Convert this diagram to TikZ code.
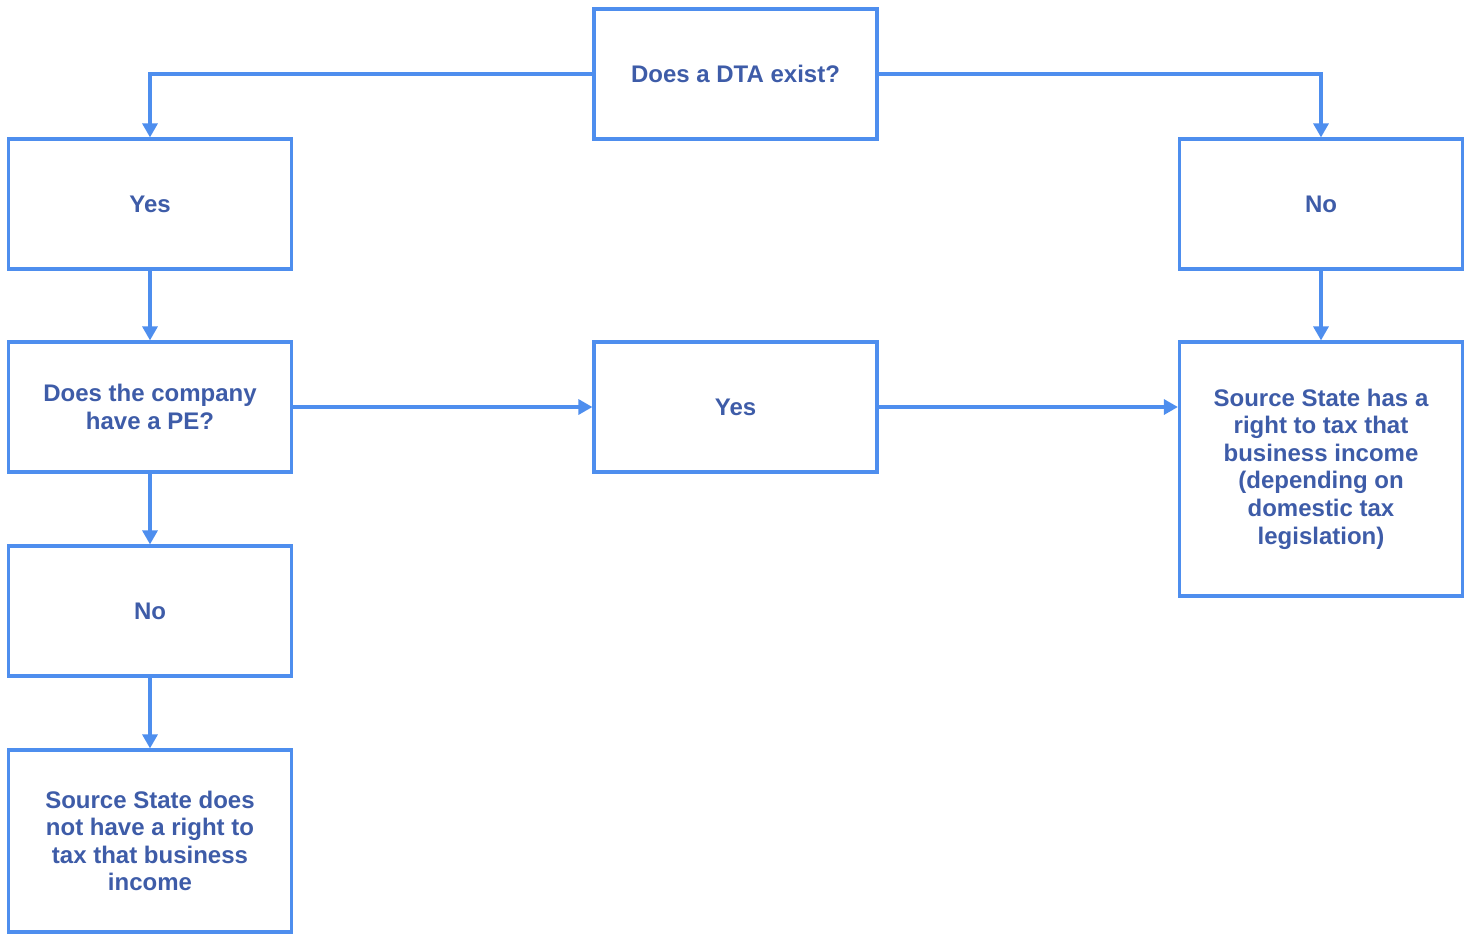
\documentclass[tikz,border=0pt]{standalone}
\usepackage{fontspec}
\setmainfont{Liberation Sans}
\usetikzlibrary{arrows.meta}
\definecolor{flowline}{RGB}{78,142,238}
\definecolor{flowtext}{RGB}{62,92,168}

\begin{document}
\begin{tikzpicture}[x=0.5pt,y=-0.5pt,
		box/.style={draw=flowline, line width=1.6pt, rectangle, minimum width=141.5pt, minimum height=65pt,
			text=flowtext, align=center, font=\fontsize{12}{13.8}\selectfont\bfseries},
		arr/.style={draw=flowline, line width=1.6pt, -{Triangle[width=7.5pt,length=7pt]}}]
			\useasboundingbox (0,0) rectangle (1469,934);

			\node[box] (dta) at (735.5,74) {Does a DTA exist?};
			\node[box] (yesl) at (150,204) {Yes};
			\node[box] (nor) at (1321,204) {No};
			\node[box] (pe) at (150,407) {Does the company\\have a PE?};
			\node[box] (yesm) at (735.5,407) {Yes};
			\node[box, minimum height=127pt] (src) at (1321,469) {Source State has a\\right to tax that\\business income\\(depending on\\domestic tax\\legislation)};
			\node[box] (nol) at (150,611) {No};
			\node[box, minimum height=91pt] (srcno) at (150,841) {Source State does\\not have a right to\\tax that business\\income};

			\draw[arr] (dta.west) -| (yesl.north);
			\draw[arr] (dta.east) -| (nor.north);
			\draw[arr] (yesl.south) -- (pe.north);
			\draw[arr] (nor.south) -- (src.north);
			\draw[arr] (pe.east) -- (yesm.west);
			\draw[arr] (yesm.east) -- (yesm.east -| src.west);
			\draw[arr] (pe.south) -- (nol.north);
			\draw[arr] (nol.south) -- (srcno.north);

		\end{tikzpicture}
\end{document}
